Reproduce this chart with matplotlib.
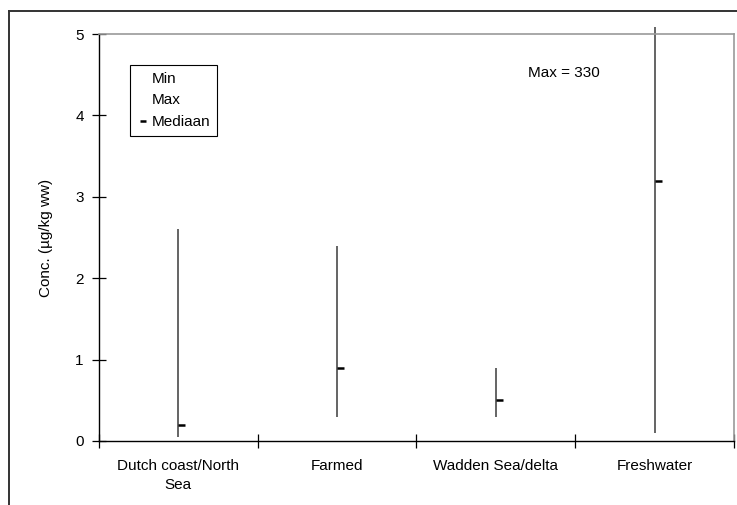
import numpy as np
import matplotlib
matplotlib.use('Agg')
import matplotlib.pyplot as plt
from matplotlib.lines import Line2D
from matplotlib.path import Path
from matplotlib.transforms import Bbox, TransformedBbox

plt.rcParams['font.family'] = ['Liberation Sans', 'DejaVu Sans']
plt.rcParams['font.size'] = 11

categories = ['Dutch coast/North\nSea', 'Farmed', 'Wadden Sea/delta', 'Freshwater']
mins = [0.05, 0.3, 0.3, 0.1]
maxs = [2.6, 2.4, 0.9, 330]
medians = [0.2, 0.9, 0.5, 3.2]
yticks = [0, 1, 2, 3, 4, 5]

fig = plt.figure(figsize=(7.37, 5.05), dpi=100)
ax = fig.add_axes([99/737, 1-441/505, 635/737, 407/505])

x = np.arange(len(categories))
line_col = '#3a3a3a'
# marker that starts on the line and points right
med_marker = Path([(0, 0), (1, 0)], [Path.MOVETO, Path.LINETO])

# let the vertical lines run a bit above the plot area (like the original)
clip = TransformedBbox(Bbox([[0, 0], [1, 1.018]]), ax.transAxes)
for i in x:
    ln = ax.vlines(i, mins[i], maxs[i], color=line_col, lw=1.1)
    ln.set_clip_box(clip)
    ax.plot(i, medians[i], marker=med_marker, ms=10.5, mew=1.8, color='black',
            linestyle='None')

ax.set_xlim(-0.5, len(categories) - 0.5)
ax.set_ylim(0, 5)
ax.set_yticks(yticks)
ax.set_xticks(x)
ax.set_xticklabels(categories, linespacing=1.45)
ax.set_xticks(np.arange(len(categories) + 1) - 0.5, minor=True)
ax.tick_params(axis='x', which='major', length=0, pad=13)
ax.tick_params(axis='x', which='minor', direction='inout', length=10, width=0.9)
ax.tick_params(axis='y', direction='inout', length=10, width=0.9, pad=6)

for s in ['top', 'right']:
    ax.spines[s].set_color('#999999')
    ax.spines[s].set_linewidth(1.2)
for s in ['left', 'bottom']:
    ax.spines[s].set_color('black')
    ax.spines[s].set_linewidth(1.0)

ax.set_ylabel('Conc. (µg/kg ww)', labelpad=16)
ax.text(0.675, 0.905, 'Max = 330', transform=ax.transAxes, ha='left', va='center')

handles = [
    Line2D([], [], linestyle='None', marker=None),
    Line2D([], [], linestyle='None', marker=None),
    Line2D([], [], linestyle='None', marker='_', ms=4, mew=1.8, color='black'),
]
leg = ax.legend(handles, ['Min', 'Max', 'Mediaan'], loc='upper left',
                bbox_to_anchor=(0.049, 0.924), fancybox=False, shadow=False,
                framealpha=1, edgecolor='black', handlelength=0.8,
                handletextpad=0.15, borderpad=0.45, labelspacing=0.5,
                borderaxespad=0)
leg.get_frame().set_linewidth(0.8)

# outer chart frame
fig.add_artist(Line2D([9/737, 1], [1-11/505, 1-11/505], color='#333333', lw=1.4))
fig.add_artist(Line2D([9/737, 9/737], [0, 1-11/505], color='#333333', lw=1.4))

fig.savefig('out.png', dpi=100)
